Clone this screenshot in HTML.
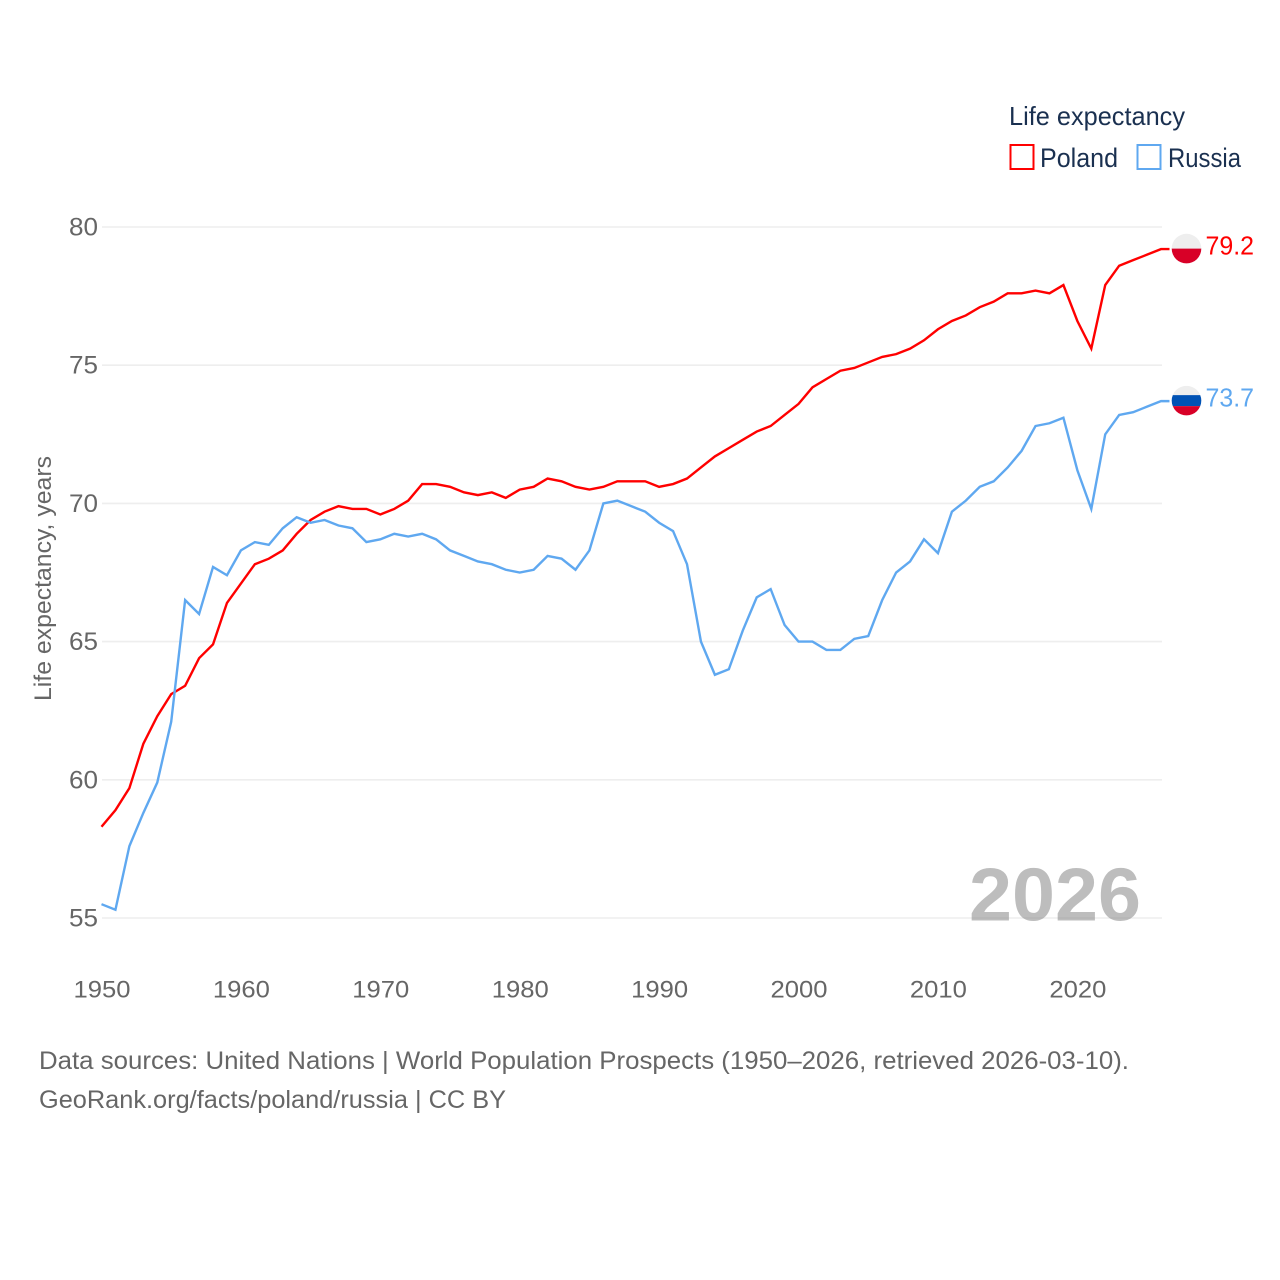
<!DOCTYPE html>
<html lang="en">
<head>
<meta charset="utf-8">
<title>Life expectancy: Poland vs Russia</title>
<style>
html,body{margin:0;padding:0;background:#fff;}
svg{display:block;}
text{font-family:"Liberation Sans",sans-serif;}
</style>
</head>
<body>
<svg id="chart" xmlns="http://www.w3.org/2000/svg" width="1280" height="1280" viewBox="0 0 1280 1280">
  <rect x="0" y="0" width="1280" height="1280" fill="#ffffff"/>
  <defs>
    <clipPath id="clip-poland"><circle id="clip-poland-circle" r="14.8"/></clipPath>
    <clipPath id="clip-russia"><circle id="clip-russia-circle" r="14.8"/></clipPath>
  </defs>
  <g id="grid"></g>
  <g id="yticks"></g>
  <g id="xticks"></g>
  <text transform="translate(51,701) rotate(-90)" font-size="24" fill="#666666" textLength="245" lengthAdjust="spacingAndGlyphs">Life expectancy, years</text>
  <text x="969" y="920.5" font-size="75" font-weight="700" fill="#808080" fill-opacity="0.52" textLength="172" lengthAdjust="spacingAndGlyphs">2026</text>
  <g id="series"></g>
  <g id="ends"></g>
  <g>
    <text x="1009" y="125" font-size="26" fill="#1a3050" textLength="176" lengthAdjust="spacingAndGlyphs">Life expectancy</text>
    <rect x="1010.5" y="145" width="23" height="24" fill="none" stroke="#ff0000" stroke-width="2"/>
    <text x="1040" y="167" font-size="27" fill="#1a3050" textLength="78" lengthAdjust="spacingAndGlyphs">Poland</text>
    <rect x="1137.5" y="145" width="23" height="24" fill="none" stroke="#5fa8f0" stroke-width="2"/>
    <text x="1168" y="167" font-size="27" fill="#1a3050" textLength="73" lengthAdjust="spacingAndGlyphs">Russia</text>
  </g>
  <text x="39" y="1069" font-size="25" fill="#666666" textLength="1090" lengthAdjust="spacingAndGlyphs">Data sources: United Nations | World Population Prospects (1950–2026, retrieved 2026-03-10).</text>
  <text x="39" y="1108" font-size="25" fill="#666666" textLength="467" lengthAdjust="spacingAndGlyphs">GeoRank.org/facts/poland/russia | CC BY</text>
</svg>
<script>
const years = [1950,1951,1952,1953,1954,1955,1956,1957,1958,1959,1960,1961,1962,1963,1964,1965,1966,1967,1968,1969,1970,1971,1972,1973,1974,1975,1976,1977,1978,1979,1980,1981,1982,1983,1984,1985,1986,1987,1988,1989,1990,1991,1992,1993,1994,1995,1996,1997,1998,1999,2000,2001,2002,2003,2004,2005,2006,2007,2008,2009,2010,2011,2012,2013,2014,2015,2016,2017,2018,2019,2020,2021,2022,2023,2024,2025,2026];
const poland = [58.3,58.9,59.7,61.3,62.3,63.1,63.4,64.4,64.9,66.4,67.1,67.8,68.0,68.3,68.9,69.4,69.7,69.9,69.8,69.8,69.6,69.8,70.1,70.7,70.7,70.6,70.4,70.3,70.4,70.2,70.5,70.6,70.9,70.8,70.6,70.5,70.6,70.8,70.8,70.8,70.6,70.7,70.9,71.3,71.7,72.0,72.3,72.6,72.8,73.2,73.6,74.2,74.5,74.8,74.9,75.1,75.3,75.4,75.6,75.9,76.3,76.6,76.8,77.1,77.3,77.6,77.6,77.7,77.6,77.9,76.6,75.6,77.9,78.6,78.8,79.0,79.2];
const russia = [55.5,55.3,57.6,58.8,59.9,62.1,66.5,66.0,67.7,67.4,68.3,68.6,68.5,69.1,69.5,69.3,69.4,69.2,69.1,68.6,68.7,68.9,68.8,68.9,68.7,68.3,68.1,67.9,67.8,67.6,67.5,67.6,68.1,68.0,67.6,68.3,70.0,70.1,69.9,69.7,69.3,69.0,67.8,65.0,63.8,64.0,65.4,66.6,66.9,65.6,65.0,65.0,64.7,64.7,65.1,65.2,66.5,67.5,67.9,68.7,68.2,69.7,70.1,70.6,70.8,71.3,71.9,72.8,72.9,73.1,71.2,69.8,72.5,73.2,73.3,73.5,73.7];
const yTickValues = [55,60,65,70,75,80];
const xTickValues = [1950,1960,1970,1980,1990,2000,2010,2020];

const NS = 'http://www.w3.org/2000/svg';
function xScale(year){ return 101.5 + (year - 1950) * (1161 - 101.5) / 76; }
function yScale(v){ return 918 + (v - 55) * (227 - 918) / 25; }
function mk(tag, attrs, parent, txt){
  const el = document.createElementNS(NS, tag);
  for (const k in attrs) el.setAttribute(k, attrs[k]);
  if (txt !== undefined) el.textContent = txt;
  parent.appendChild(el);
  return el;
}
const grid = document.getElementById('grid');
const yticks = document.getElementById('yticks');
const xticks = document.getElementById('xticks');
const seriesG = document.getElementById('series');
const ends = document.getElementById('ends');

yTickValues.forEach(function(v){
  const line = mk('line', {x1:102, x2:1162, y1:yScale(v), y2:yScale(v), stroke:'#eeeeee', 'stroke-width':1.6}, grid);
  
  
  const t = mk('text', {x:69, y:yScale(v)+8.5, 'font-size':25, fill:'#666666', textLength:29, lengthAdjust:'spacingAndGlyphs'}, yticks, String(v));
  
  
});
xTickValues.forEach(function(v){
  const t = mk('text', {x:xScale(v)+0.5, y:997.5, 'text-anchor':'middle', 'font-size':24.5, fill:'#666666', textLength:57, lengthAdjust:'spacingAndGlyphs'}, xticks, String(v));
  
  
});

function drawSeries(values, color, lineName){
  let pts = years.map(function(y, i){ return xScale(y).toFixed(2) + ',' + yScale(values[i]).toFixed(2); }).join(' ');
  pts += ' ' + (xScale(years[years.length-1]) + 8.5).toFixed(2) + ',' + yScale(values[values.length-1]).toFixed(2);
  const p = mk('polyline', {points:pts, fill:'none', stroke:color, 'stroke-width':2.4, 'stroke-linejoin':'miter'}, seriesG);
  
  
}
drawSeries(poland, '#ff0000', 'poland-line');
drawSeries(russia, '#5fa8f0', 'russia-line');

// Poland end marker
const py = yScale(poland[poland.length-1]) - 0.5;
document.getElementById('clip-poland-circle').setAttribute('cx', 1186.5);
document.getElementById('clip-poland-circle').setAttribute('cy', py);
const pf = mk('g', {'clip-path':'url(#clip-poland)'}, ends);


mk('rect', {x:1170, y:py-16, width:34, height:16, fill:'#eeeeee'}, pf);
mk('rect', {x:1170, y:py, width:34, height:16, fill:'#d80027'}, pf);
const pl = mk('text', {x:1205.5, y:py+6, 'font-size':26, fill:'#ff0000', textLength:48.5, lengthAdjust:'spacingAndGlyphs'}, ends, poland[poland.length-1].toFixed(1));



// Russia end marker
const ry = yScale(russia[russia.length-1]) - 0.5;
document.getElementById('clip-russia-circle').setAttribute('cx', 1186.5);
document.getElementById('clip-russia-circle').setAttribute('cy', ry);
const rf = mk('g', {'clip-path':'url(#clip-russia)'}, ends);


mk('rect', {x:1170, y:ry-16, width:34, height:11, fill:'#eeeeee'}, rf);
mk('rect', {x:1170, y:ry-5.5, width:34, height:11, fill:'#0052b4'}, rf);
mk('rect', {x:1170, y:ry+5.5, width:34, height:11, fill:'#d80027'}, rf);
const rl = mk('text', {x:1205.5, y:ry+6, 'font-size':26, fill:'#5fa8f0', textLength:48.5, lengthAdjust:'spacingAndGlyphs'}, ends, russia[russia.length-1].toFixed(1));


</script>
</body>
</html>
